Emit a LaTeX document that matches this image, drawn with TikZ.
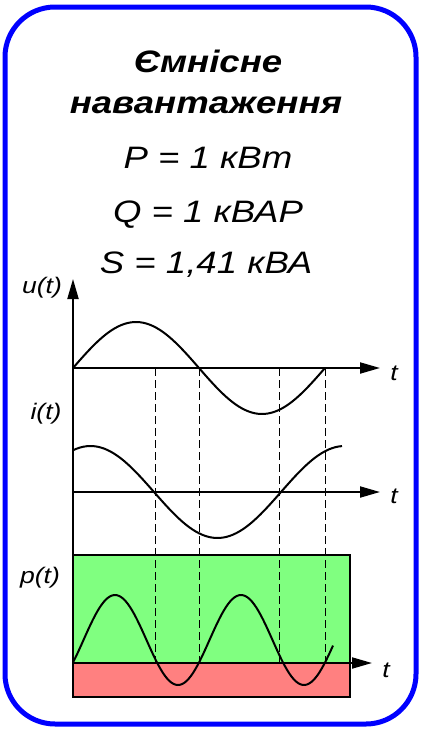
\documentclass[tikz,border=0pt]{standalone}
\usepackage{fontspec}
\setmainfont{Liberation Sans}[FakeStretch=1.18]
\usetikzlibrary{arrows.meta}
\definecolor{boxblue}{RGB}{0,0,255}
\definecolor{pgreen}{RGB}{128,255,128}
\definecolor{pred}{RGB}{255,128,128}
\tikzset{
 big/.style={font=\fontsize{31}{36}\selectfont\itshape, anchor=base, inner sep=0pt},
 ttl/.style={font=\fontsize{31}{36}\selectfont\bfseries\itshape, anchor=base, inner sep=0pt},
 lab/.style={font=\fontsize{22.5}{26}\selectfont\itshape, anchor=base, inner sep=0pt},
 axis/.style={line width=2pt, -{Triangle[length=20pt,width=11pt]}},
 curve/.style={line width=2pt, line join=round},
 guide/.style={line width=1pt, dash pattern=on 8pt off 4pt},
 box/.style={line width=2pt, draw=black},
}
\begin{document}
\begin{tikzpicture}[x=1pt,y=-1pt]
\useasboundingbox (0,0) rectangle (429,731);
\draw[draw=boxblue, line width=5pt, rounded corners=50pt] (5,7) rectangle (416,724);
% texts
\node[ttl] (t1) at (208,72) {Ємнісне};
\node[ttl] (t2) at (206,113) {навантаження};
\node[big] (pP) at (208,168) {P = 1 кВт};
\node[big] (pQ) at (208,222) {Q = 1 кВАР};
\node[big] (pS) at (206,273) {S = 1,41 кВА};
% coordinates
\coordinate (O1) at (73,368);
\coordinate (E1) at (380,368);
\coordinate (O2) at (73,492);
\coordinate (E2) at (380,492);
\coordinate (O3) at (73,663);
\coordinate (E3) at (372,663);
\coordinate (Ytop) at (73,279);
\coordinate (Ybot) at (73,555);
% power rectangles
\draw[box, fill=pgreen] (73,555) rectangle (350,663);
\draw[box, fill=pred] (73,663) rectangle (350,697);
% dashed guides
\foreach \xx/\nm in {155/a,199/b,279/c,325/d}{
  \coordinate (g\nm1) at (\xx,368);
  \coordinate (g\nm2) at (\xx,663);
  \draw[guide] (g\nm1) -- (g\nm2);
}
% curves
\draw[curve] plot[domain=73:325, samples=80] (\x, {368 - 46*sin((\x-73)/126*180)});
\draw[curve] plot[domain=73:342, samples=80] (\x, {492 + 46*sin((\x-154)/127*180)});
\draw[curve] plot[domain=73:333, samples=120] (\x, {640 - 45*cos((\x-115)/126*360)});
% axes
\draw[axis] (Ybot) -- (Ytop);
\draw[axis] (O1) -- (E1);
\draw[axis] (O2) -- (E2);
\draw[axis] (O3) -- (E3);
% labels
\node[lab] (lu) at (42,293) {u(t)};
\node[lab] (li) at (46,419) {i(t)};
\node[lab] (lp) at (40,583) {p(t)};
\node[lab] (tt1) at (394,380) {t};
\node[lab] (tt2) at (394,503) {t};
\node[lab] (tt3) at (386,677) {t};
\end{tikzpicture}
\end{document}
